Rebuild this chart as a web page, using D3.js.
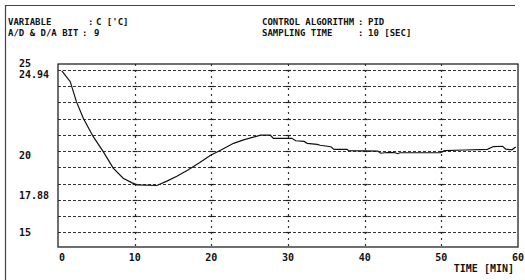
<!DOCTYPE html>
<html>
<head>
<meta charset="utf-8">
<script src="https://cdn.jsdelivr.net/npm/d3@7"></script>
<style>
  body { margin: 0; background: #fff; }
  svg { display: block; }
  text { font-family: "DejaVu Sans Mono", monospace; font-weight: bold; fill: #111; }
</style>
</head>
<body>
<svg id="chart" width="525" height="280"></svg>
<script>
// trace (minutes, deg C)
const time = [0.5, 1.6, 2.4, 3.3, 4.6, 5.9, 7.2, 8.5, 9.6, 10.3, 12.9, 14.2, 15.5, 17.0, 18.5,
  19.9, 21.2, 22.9, 24.2, 26.4, 27.7, 28.1, 30.5, 31.0, 32.1, 32.5, 33.8, 34.2, 35.6, 36.0,
  37.7, 37.9, 41.7, 42.1, 42.6, 43.4, 44.0, 44.3, 44.6, 45.1, 49.9, 50.4, 53.0, 56.0, 56.8,
  58.0, 58.4, 59.2, 59.7];
const temp = [24.94, 24.28, 23.05, 22.02, 20.89, 19.97, 18.95, 18.33, 18.06, 17.92, 17.88, 18.15, 18.45, 18.85, 19.3,
  19.75, 20.05, 20.48, 20.69, 20.98, 20.98, 20.79, 20.79, 20.64, 20.6, 20.48, 20.42, 20.36, 20.27, 20.11,
  20.11, 20.03, 20.0, 19.87, 19.9, 19.92, 19.9, 19.84, 19.9, 19.9, 19.9, 20.03, 20.07, 20.11, 20.28,
  20.3, 20.12, 20.08, 20.25];

const xTicks = [0, 10, 20, 30, 40, 50, 60];
const xGrid = [10, 20, 30, 40, 50];
const yGrid = [25, 24, 23, 22, 21, 20, 19, 18, 17, 16, 15];
const yLabels = ["25", "24.94", "20", "17.88", "15"];
const yLabelValues = [25, 24.94, 20, 17.88, 15];
const yLabelShift = [-7, 3, 4, 9, 0];

const headerLeft = [["VARIABLE", ":", "C ['C]"], ["A/D & D/A BIT", ":", "9"]];
const headerRight = [["CONTROL ALGORITHM", ":", "PID"], ["SAMPLING TIME", ":", "10 [SEC]"]];

const svg = d3.select("#chart");
const x = d3.scaleLinear().domain([0, 60]).range([58, 518]);
const y = d3.scaleLinear().domain([14.09, 25.37]).range([247, 64]);

// outer scan frame
svg.append("path")
  .attr("d", "M5.5,280 L5.5,5.5 L515,5.5")
  .attr("fill", "none").attr("stroke", "#444").attr("stroke-width", 1.2);

// header text
function header(rows, x0, xColon, xVal) {
  rows.forEach((r, i) => {
    const yy = 25 + i * 11;
    svg.append("text").attr("x", x0).attr("y", yy).attr("font-size", 9).text(r[0]);
    svg.append("text").attr("x", xColon[i]).attr("y", yy).attr("font-size", 9).text(r[1]);
    svg.append("text").attr("x", xVal[i]).attr("y", yy).attr("font-size", 9).text(r[2]);
  });
}
header(headerLeft, 8, [88, 82], [96, 94]);
header(headerRight, 262, [358, 358], [368, 368]);

// horizontal dotted grid
svg.append("g").selectAll("line").data(yGrid).join("line")
  .attr("x1", x(0)).attr("x2", x(60))
  .attr("y1", d => Math.round(y(d)) + 0.5).attr("y2", d => Math.round(y(d)) + 0.5)
  .attr("stroke", "#333").attr("stroke-width", 1).attr("stroke-dasharray", "3,2");

// vertical dashed grid
svg.append("g").selectAll("line").data(xGrid).join("line")
  .attr("x1", d => Math.round(x(d)) + 0.5).attr("x2", d => Math.round(x(d)) + 0.5)
  .attr("y1", y.range()[1]).attr("y2", y.range()[0])
  .attr("stroke", "#333").attr("stroke-width", 1.2).attr("stroke-dasharray", "2,4");

// little crosses where the grids meet
const cross = [];
xGrid.forEach(a => yGrid.forEach(b => cross.push([a, b])));
svg.append("g").selectAll("line").data(cross).join("line")
  .attr("x1", d => x(d[0]) - 2).attr("x2", d => x(d[0]) + 3)
  .attr("y1", d => Math.round(y(d[1])) + 0.5).attr("y2", d => Math.round(y(d[1])) + 0.5)
  .attr("stroke", "#222").attr("stroke-width", 1.2);

// plot frame
svg.append("rect")
  .attr("x", x(0)).attr("y", y.range()[1])
  .attr("width", x(60) - x(0)).attr("height", y.range()[0] - y.range()[1])
  .attr("fill", "none").attr("stroke", "#222").attr("stroke-width", 1.3);

// y labels
svg.append("g").selectAll("text").data(yLabels).join("text")
  .attr("x", 19)
  .attr("y", (d, i) => y(yLabelValues[i]) + yLabelShift[i] + 4)
  .attr("font-size", 10)
  .text(d => d);

// x axis labels
svg.append("g").selectAll("text").data(xTicks).join("text")
  .attr("x", d => x(d) + (d === 0 ? 4 : 0))
  .attr("y", 261)
  .attr("text-anchor", "middle")
  .attr("font-size", 10)
  .text(d => d);
svg.append("text").attr("x", 514).attr("y", 272).attr("text-anchor", "end")
  .attr("font-size", 10).text("TIME [MIN]");

// temperature trace
const line = d3.line()
  .x((d, i) => x(time[i]))
  .y(d => y(d));
svg.append("path")
  .datum(temp)
  .attr("d", line)
  .attr("fill", "none").attr("stroke", "#111").attr("stroke-width", 1.2);
</script>
</body>
</html>
